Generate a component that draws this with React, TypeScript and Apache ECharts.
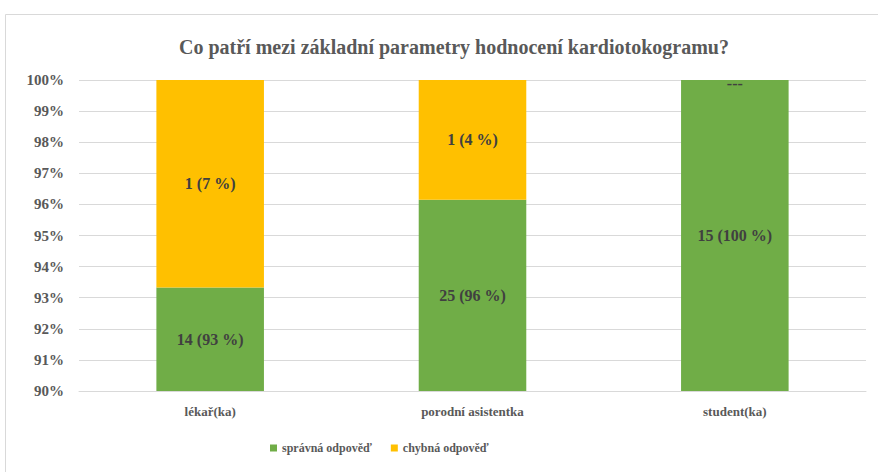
import React, { useEffect, useRef } from "react";
import * as echarts from "echarts";

const categories = ["lékař(ka)", "porodní asistentka", "student(ka)"];
const correctCounts = [14, 25, 15];
const wrongCounts = [1, 1, 0];
const correctPct = [93.33, 96.15, 100];
const wrongPct = [6.67, 3.85, 0];
const correctPctLabel = [93, 96, 100];
const wrongPctLabel = [7, 4, 0];
const yTicks = ["90%", "91%", "92%", "93%", "94%", "95%", "96%", "97%", "98%", "99%", "100%"];

const FONT = "Liberation Serif";

export default function App() {
  const ref = useRef<HTMLDivElement>(null);
  useEffect(() => {
    if (!ref.current) return;
    const chart = echarts.init(ref.current, undefined, { renderer: "svg" });
    chart.setOption({
      animation: false,
      backgroundColor: "#ffffff",
      graphic: [
        {
          type: "rect",
          shape: { x: 5.5, y: 14.5, width: 900, height: 500 },
          style: { fill: "none", stroke: "#d9d9d9", lineWidth: 1 },
          silent: true,
          z: -10,
        },
      ],
      title: {
        text: "Co patří mezi základní parametry hodnocení kardiotokogramu?",
        left: 449,
        textAlign: "center",
        top: 32,
        textStyle: { fontFamily: FONT, fontSize: 20, fontWeight: "bold", color: "#595959" },
      },
      grid: { left: 79, right: 12, top: 80, bottom: 81, containLabel: false },
      legend: {
        bottom: 13,
        left: 265,
        itemWidth: 7,
        itemHeight: 7,
        itemGap: 19,
        icon: "rect",
        textStyle: { fontFamily: FONT, fontSize: 12, fontWeight: "bold", color: "#595959" },
        data: ["správná odpověď", "chybná odpověď"],
      },
      xAxis: {
        type: "category",
        data: categories,
        axisLine: { lineStyle: { color: "#d9d9d9" } },
        axisTick: { show: false },
        axisLabel: { fontFamily: FONT, fontSize: 13, fontWeight: "bold", color: "#595959", margin: 14 },
      },
      yAxis: {
        type: "value",
        min: 90,
        max: 100,
        interval: 1,
        axisLine: { show: false },
        axisTick: { show: false },
        splitLine: { lineStyle: { color: "#d9d9d9" } },
        axisLabel: {
          fontFamily: FONT,
          fontSize: 15,
          fontWeight: "bold",
          color: "#595959",
          margin: 15,
          formatter: (v: number) => yTicks[Math.round(v - 90)],
        },
      },
      series: [
        {
          name: "správná odpověď",
          type: "bar",
          stack: "a",
          barWidth: "41%",
          itemStyle: { color: "#70ad47" },
          data: correctPct,
          label: {
            show: true,
            position: "inside",
            fontFamily: FONT,
            fontSize: 16,
            fontWeight: "bold",
            color: "#404040",
            formatter: (p: any) => `${correctCounts[p.dataIndex]} (${correctPctLabel[p.dataIndex]} %)`,
          },
        },
        {
          name: "chybná odpověď",
          type: "bar",
          stack: "a",
          barWidth: "41%",
          itemStyle: { color: "#ffc000" },
          data: wrongPct.map((v, i) =>
            wrongCounts[i] === 0 ? { value: v, label: { offset: [0, 3] } } : v
          ),
          label: {
            show: true,
            position: "inside",
            fontFamily: FONT,
            fontSize: 16,
            fontWeight: "bold",
            color: "#404040",
            formatter: (p: any) =>
              wrongCounts[p.dataIndex] === 0 ? "---" : `${wrongCounts[p.dataIndex]} (${wrongPctLabel[p.dataIndex]} %)`,
          },
        },
      ],
    });
    return () => chart.dispose();
  }, []);
  return (
    <div
      ref={ref}
      style={{ position: "fixed", left: 0, top: 0, width: 878, height: 472 }}
    />
  );
}
